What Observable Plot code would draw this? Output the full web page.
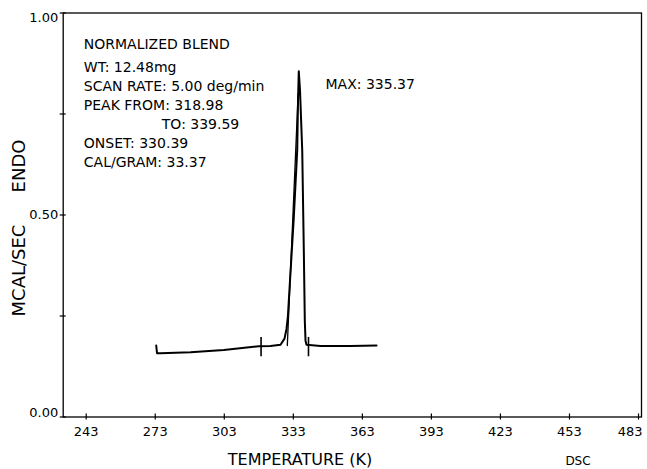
<!DOCTYPE html>
<html>
<head>
<meta charset="utf-8">
<script src="https://cdn.jsdelivr.net/npm/d3@7"></script>
<script src="https://cdn.jsdelivr.net/npm/@observablehq/plot@0.6"></script>
<style>
  html, body { margin: 0; padding: 0; background: #fff; }
  #chart svg { display: block; }
</style>
</head>
<body>
<div id="chart"></div>
<script>
// DSC trace (temperature in K, signal in MCAL/SEC, normalized)
const temps  = [273.42, 273.77, 275.29, 288.32, 302.80, 318.01, 323.09, 327.44, 329.17, 330.04, 330.61, 331.48, 333.22, 334.69, 335.04, 335.37, 335.91, 336.87, 337.56, 337.99, 338.30, 338.73, 344.82, 357.86, 369.16];
const signal = [0.177, 0.158, 0.158, 0.160, 0.166, 0.175, 0.176, 0.179, 0.194, 0.218, 0.247, 0.330, 0.495, 0.660, 0.783, 0.856, 0.808, 0.660, 0.412, 0.239, 0.189, 0.179, 0.176, 0.176, 0.177];
// leading-edge tangent used for onset
const tangentT = [330.39, 335.10];
const tangentV = [0.177, 0.800];
// peak limit markers
const peakLimits = [318.98, 339.59];
const markerLow = 0.149, markerHigh = 0.197;

const xTicks = [243, 273, 303, 333, 363, 393, 423, 453, 483];
const yTicksAll = [0, 0.25, 0.5, 0.75, 1];
const yLabelTop = 1, yLabelMid = 0.5, yLabelBottom = 0;

const titleLine = "NORMALIZED BLEND";
const infoLines = ["WT: 12.48mg", "SCAN RATE: 5.00 deg/min", "PEAK FROM: 318.98", "TO: 339.59", "ONSET: 330.39", "CAL/GRAM: 33.37"];
const maxLabel = "MAX: 335.37";
const xLabel = "TEMPERATURE (K)";
const yLabel1 = "MCAL/SEC";
const yLabel2 = "ENDO";
const footer = "DSC";

const trace = temps.map((t, i) => ({t, v: signal[i]}));
const tangent = tangentT.map((t, i) => ({t, v: tangentV[i]}));

const font = "DejaVu Sans, sans-serif";
const infoIndent = [0, 0, 0, 78, 0, 0];
const fmtY = d3.format(".2f");
const lastTick = xTicks[xTicks.length - 1];

const yLabelMark = (v, lineAnchor) => Plot.text([v], {
  y: d => d, text: d => fmtY(d), frameAnchor: "left", textAnchor: "end",
  lineAnchor, dx: -5, fontSize: 13, fill: "#000"
});

const marks = [
  Plot.frame({stroke: "#000", strokeWidth: 1.3}),
  Plot.axisX({ticks: xTicks.slice(0, -1), tickSize: 0, tickPadding: 10, fontSize: 13, tickFormat: d3.format("d"), label: null}),
  Plot.text([lastTick], {x: d => d, text: d => String(d), frameAnchor: "bottom", textAnchor: "end", lineAnchor: "top", dx: 4, dy: 10, fontSize: 13, fill: "#000"}),
  Plot.axisX({ticks: xTicks, tickSize: 6, dy: -3, tickFormat: () => "", label: null, strokeWidth: 1.2}),
  Plot.axisY({ticks: yTicksAll, tickSize: 6, dx: 3, tickFormat: () => "", label: null, strokeWidth: 1.2}),
  yLabelMark(yLabelTop, "top"),
  yLabelMark(yLabelMid, "middle"),
  yLabelMark(yLabelBottom, "bottom"),
  Plot.line(trace, {x: "t", y: "v", stroke: "#000", strokeWidth: 2, curve: "linear"}),
  Plot.line(tangent, {x: "t", y: "v", stroke: "#000", strokeWidth: 1.3}),
  Plot.ruleX(peakLimits, {y1: markerLow, y2: markerHigh, stroke: "#000", strokeWidth: 1.6}),
  Plot.text([titleLine], {frameAnchor: "top-left", textAnchor: "start", lineAnchor: "bottom", dx: 20.6, dy: 36.3, fontSize: 14, fill: "#000"}),
  ...infoLines.map((s, i) => Plot.text([s], {frameAnchor: "top-left", textAnchor: "start", lineAnchor: "bottom", dx: 20.6 + infoIndent[i], dy: 58.7 + i * 19, fontSize: 14, fill: "#000"})),
  Plot.text([maxLabel], {frameAnchor: "top-left", textAnchor: "start", lineAnchor: "bottom", dx: 262.3, dy: 76.3, fontSize: 14, fill: "#000"}),
  Plot.text([yLabel1], {frameAnchor: "left", textAnchor: "middle", lineAnchor: "middle", rotate: -90, dx: -44, dy: 55.5, fontSize: 18, fill: "#000"}),
  Plot.text([yLabel2], {frameAnchor: "left", textAnchor: "middle", lineAnchor: "middle", rotate: -90, dx: -44, dy: -49, fontSize: 18, fill: "#000"})
];

const chart = Plot.plot({
  width: 647,
  height: 469,
  marginLeft: 62.7,
  marginRight: 6,
  marginTop: 12.5,
  marginBottom: 52.5,
  style: {fontFamily: font, color: "#000", background: "#fff", overflow: "visible"},
  x: {domain: [233, 484.3]},
  y: {domain: [0, 1]},
  marks
});

// Axis title and footer are added in SVG coordinates below the plot frame
const svg = d3.select(chart);
svg.append("text")
  .attr("x", 300).attr("y", 465)
  .attr("text-anchor", "middle")
  .attr("font-family", font).attr("font-size", 16).attr("fill", "#000")
  .text(xLabel);
svg.append("text")
  .attr("x", 578).attr("y", 465)
  .attr("text-anchor", "middle")
  .attr("font-family", font).attr("font-size", 12).attr("fill", "#000")
  .text(footer);

document.getElementById("chart").append(chart);
</script>
</body>
</html>
